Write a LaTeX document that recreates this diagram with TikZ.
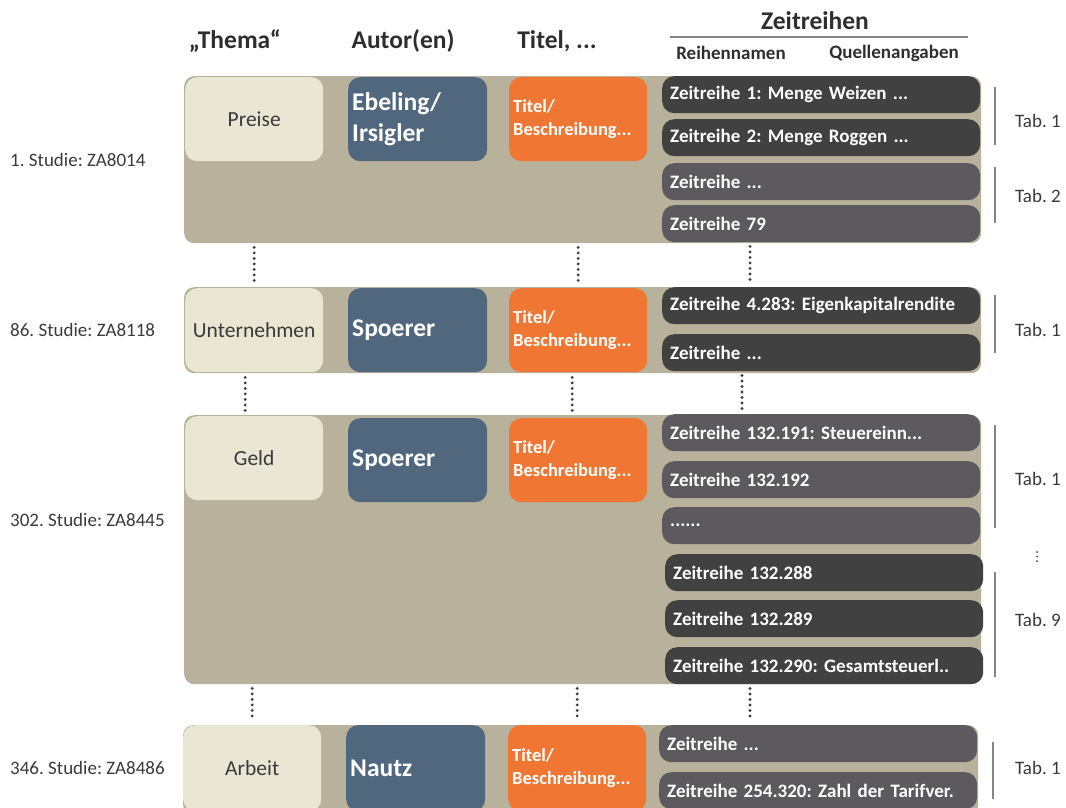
\documentclass[tikz,border=0pt]{standalone}
\usepackage{fontspec}
\setmainfont{Carlito}
\usetikzlibrary{calc}
\frenchspacing

\definecolor{studybg}{HTML}{B8B19C}
\definecolor{themafill}{HTML}{E9E6D4}
\definecolor{autorfill}{HTML}{51677E}
\definecolor{titelfill}{HTML}{F07633}
\definecolor{reihedunkel}{HTML}{414141}
\definecolor{reihehell}{HTML}{5C5A5E}
\definecolor{textgray}{HTML}{3A3A3A}
\definecolor{headgray}{HTML}{2E2E2E}
\definecolor{bargray}{HTML}{858585}
\definecolor{dotgray}{HTML}{3A3A48}

\tikzset{
  studybox/.style={rectangle,rounded corners=10pt,fill=studybg,anchor=north west,inner sep=0pt},
  themabox/.style={rectangle,rounded corners=12pt,fill=themafill,text=textgray,anchor=north west,
    minimum width=138pt,minimum height=84pt,font=\fontsize{21.5}{24}\selectfont},
  autorbox/.style={rectangle,rounded corners=12pt,fill=autorfill,text=white,anchor=north west,
    minimum height=84pt,text width=131pt,inner xsep=4pt,align=left,font=\fontsize{25.5}{31}\selectfont\bfseries},
  titelbox/.style={rectangle,rounded corners=12pt,fill=titelfill,text=white,anchor=north west,
    minimum height=84pt,text width=130pt,inner xsep=4pt,align=left,font=\fontsize{18.5}{23}\selectfont\bfseries},
  reihe/.style={rectangle,rounded corners=12pt,text=white,anchor=north west,minimum height=37pt,
    text width=302pt,inner xsep=8pt,align=left,font=\fontsize{19}{22}\selectfont\bfseries},
  reihedark/.style={reihe,fill=reihedunkel},
  reihelight/.style={reihe,fill=reihehell},
  studielabel/.style={anchor=west,inner sep=0pt,text=textgray,font=\fontsize{19}{22}\selectfont},
  tablabel/.style={inner sep=0pt,text=textgray,font=\fontsize{19}{22}\selectfont},
  head/.style={inner sep=0pt,text=headgray,font=\fontsize{25.5}{28}\selectfont\bfseries},
  subhead/.style={inner sep=0pt,text=headgray,font=\fontsize{19}{22}\selectfont\bfseries},
  tabbar/.style={draw=bargray,line width=2.5pt},
  dots/.style={draw=dotgray,line width=3.2pt,line cap=round,dash pattern=on 0pt off 5.5pt},
}

\begin{document}
\begin{tikzpicture}[x=1pt,y=-1pt]
\useasboundingbox (0,0) rectangle (1066,807);

% header
\node[head] (hthema) at (235,41) {„Thema“};
\node[head] (hautor) at (403,41) {Autor(en)};
\node[head] (htitel) at (557,41) {Titel, ...};
\node[head] (hzeit) at (815,21) {Zeitreihen};
\node[subhead] (hnamen) at (731,53) {Reihennamen};
\node[subhead] (hquellen) at (894,53) {Quellenangaben};
\draw[draw=bargray,line width=2.5pt] (670,37) -- (968,37);

% 1. Studie
\node[studielabel] (lab1) at (10,160) {1. Studie: ZA8014};
\node[studybox,minimum width=797pt,minimum height=167pt] (study1) at (184,76) {};
\node[themabox] (thema1) at (185,77) {Preise};
\node[autorbox] (autor1) at (348,77) {Ebeling/\\Irsigler};
\node[titelbox] (titel1) at (509,77) {Titel/\\Beschreibung...};
\node[reihedark] (r11) at (662,76) {Zeitreihe 1: Menge Weizen ...};
\node[reihedark] (r12) at (662,119) {Zeitreihe 2: Menge Roggen ...};
\node[reihelight] (r13) at (662,163) {Zeitreihe ...};
\node[reihelight] (r14) at (662,205) {Zeitreihe 79};
\draw[tabbar] (995,87) -- (995,145);
\draw[tabbar] (995,167) -- (995,223);
\node[tablabel] (tab11) at (1038,121) {Tab. 1};
\node[tablabel] (tab12) at (1038,196) {Tab. 2};

% 86. Studie
\node[studielabel] (lab2) at (10,330) {86. Studie: ZA8118};
\node[studybox,minimum width=797pt,minimum height=86pt] (study2) at (184,287) {};
\node[themabox] (thema2) at (185,288) {Unternehmen};
\node[autorbox] (autor2) at (348,288) {Spoerer};
\node[titelbox] (titel2) at (509,288) {Titel/\\Beschreibung...};
\node[reihedark] (r21) at (662,287) {Zeitreihe 4.283: Eigenkapitalrendite};
\node[reihedark] (r22) at (662,334) {Zeitreihe ...};
\draw[tabbar] (995,295) -- (995,353);
\node[tablabel] (tab21) at (1038,330) {Tab. 1};

% 302. Studie
\node[studielabel] (lab3) at (10,520) {302. Studie: ZA8445};
\node[studybox,minimum width=797pt,minimum height=269pt] (study3) at (184,415) {};
\node[themabox] (thema3) at (185,416) {Geld};
\node[autorbox] (autor3) at (348,418) {Spoerer};
\node[titelbox] (titel3) at (509,418) {Titel/\\Beschreibung...};
\node[reihelight] (r31) at (662,414) {Zeitreihe 132.191: Steuereinn...};
\node[reihelight] (r32) at (662,461) {Zeitreihe 132.192};
\node[reihelight] (r33) at (662,507) {......};
\node[reihedark] (r34) at (665,554) {Zeitreihe 132.288};
\node[reihedark] (r35) at (665,600) {Zeitreihe 132.289};
\node[reihedark] (r36) at (665,647) {Zeitreihe 132.290: Gesamtsteuerl..};
\draw[tabbar] (995,425) -- (995,528);
\draw[tabbar] (995,572) -- (995,677);
\node[tablabel] (tab31) at (1038,479) {Tab. 1};
\draw[dots,line width=2pt,dash pattern=on 0pt off 4.5pt] (1037,552) -- (1037,562);
\node[tablabel] (tab39) at (1038,620) {Tab. 9};

% 346. Studie
\node[studielabel] (lab4) at (10,768) {346. Studie: ZA8486};
\node[studybox,minimum width=795pt,minimum height=90pt] (study4) at (183,725) {};
\node[themabox,minimum height=86pt] (thema4) at (183,725) {Arbeit};
\node[autorbox,minimum height=86pt] (autor4) at (346,725) {Nautz};
\node[titelbox,minimum height=86pt] (titel4) at (508,725) {Titel/\\Beschreibung...};
\node[reihelight] (r41) at (659,725) {Zeitreihe ...};
\node[reihelight] (r42) at (659,772) {Zeitreihe 254.320: Zahl der Tarifver.};
\draw[tabbar] (993,742) -- (993,799);
\node[tablabel] (tab41) at (1038,768) {Tab. 1};

% dotted links
\draw[dots] ($(study1.south -| thema1)+(0,4)$) -- ($(study2.north -| thema2)+(0,-4)$);
\draw[dots] ($(study1.south -| titel1)+(0,4)$) -- ($(study2.north -| titel2)+(0,-4)$);
\draw[dots] ($(r14.south west)+(88,4)$) -- ($(r21.north west)+(88,-4)$);
\draw[dots] ($(study2.south -| thema2)+(-9,4)$) -- ($(study3.north -| thema3)+(-9,-4)$);
\draw[dots] ($(study2.south -| titel2)+(-6,4)$) -- ($(study3.north -| titel3)+(-6,-4)$);
\draw[dots] ($(r22.south west)+(80,4)$) -- ($(r31.north west)+(80,-4)$);
\draw[dots] ($(study3.south -| thema4)+(0,4)$) -- ($(study4.north -| thema4)+(0,-4)$);
\draw[dots] ($(study3.south -| titel4)+(0,4)$) -- ($(study4.north -| titel4)+(0,-4)$);
\draw[dots] ($(r36.south west)+(85,4)$) -- ($(r41.north west)+(91,-4)$);
\end{tikzpicture}
\end{document}
